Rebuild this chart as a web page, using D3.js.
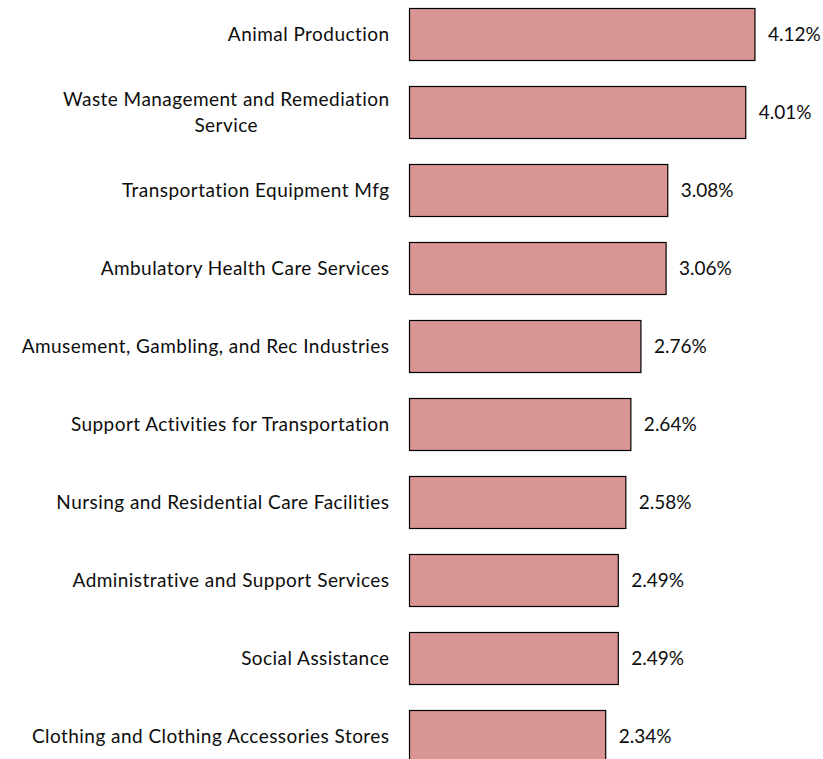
<!DOCTYPE html>
<html>
<head>
<meta charset="utf-8">
<script src="https://cdn.jsdelivr.net/npm/d3@7"></script>
<style>
  html, body { margin: 0; padding: 0; background: #fff; }
  svg { display: block; }
  text { font-family: Lato, "Open Sans", sans-serif; fill: #0d0d0d; }
</style>
</head>
<body>
<script>
const categories = [
  "Animal Production",
  "Waste Management and Remediation\nService",
  "Transportation Equipment Mfg",
  "Ambulatory Health Care Services",
  "Amusement, Gambling, and Rec Industries",
  "Support Activities for Transportation",
  "Nursing and Residential Care Facilities",
  "Administrative and Support Services",
  "Social Assistance",
  "Clothing and Clothing Accessories Stores"
];
const values = [4.12, 4.01, 3.08, 3.06, 2.76, 2.64, 2.58, 2.49, 2.49, 2.34];
const valueLabels = ["4.12%", "4.01%", "3.08%", "3.06%", "2.76%", "2.64%", "2.58%", "2.49%", "2.49%", "2.34%"];

const W = 823, H = 759;
const fontSize = 19;
const svg = d3.select("body").append("svg").attr("width", W).attr("height", H);

const x = d3.scaleLinear().domain([0, 5]).range([409.5, 409.5 + 5 * 83.85]);
const y = d3.scaleBand().domain(d3.range(categories.length))
  .range([-4.7, -4.7 + 78 * categories.length])
  .paddingInner(1 / 3).paddingOuter(1 / 6);

const g = svg.append("g");
g.selectAll("rect.bar").data(values).join("rect")
  .attr("class", "bar")
  .attr("x", x(0))
  .attr("y", (d, i) => Math.round(y(i)) + 0.5)
  .attr("width", d => x(d) - x(0))
  .attr("height", Math.round(y.bandwidth()))
  .attr("fill", "#d99594")
  .attr("stroke", "#000")
  .attr("stroke-width", 1.2);

g.selectAll("text.val").data(values).join("text")
  .attr("class", "val")
  .attr("x", d => x(d) + 13)
  .attr("y", (d, i) => y(i) + y.bandwidth() / 2 + 6.5)
  .attr("font-size", fontSize)
  .text((d, i) => valueLabels[i]);

const labelRight = 389.5;
const ls = 0.45;
categories.forEach((c, i) => {
  const lines = c.split("\n");
  const cy = y(i) + y.bandwidth() / 2;
  const lh = 26;
  const t = g.append("text").attr("font-size", fontSize).attr("letter-spacing", ls);
  if (lines.length === 1) {
    t.attr("x", labelRight).attr("y", cy + 6.5).attr("text-anchor", "end").text(c);
  } else {
    const probe = g.append("text").attr("font-size", fontSize).attr("letter-spacing", ls).text(lines[0]);
    const w = probe.node().getComputedTextLength();
    probe.remove();
    const center = labelRight - w / 2;
    lines.forEach((ln, k) => {
      t.append("tspan")
        .attr("x", center)
        .attr("y", cy + 6.5 + (k - (lines.length - 1) / 2) * lh)
        .attr("text-anchor", "middle")
        .text(ln);
    });
  }
});
</script>
</body>
</html>
